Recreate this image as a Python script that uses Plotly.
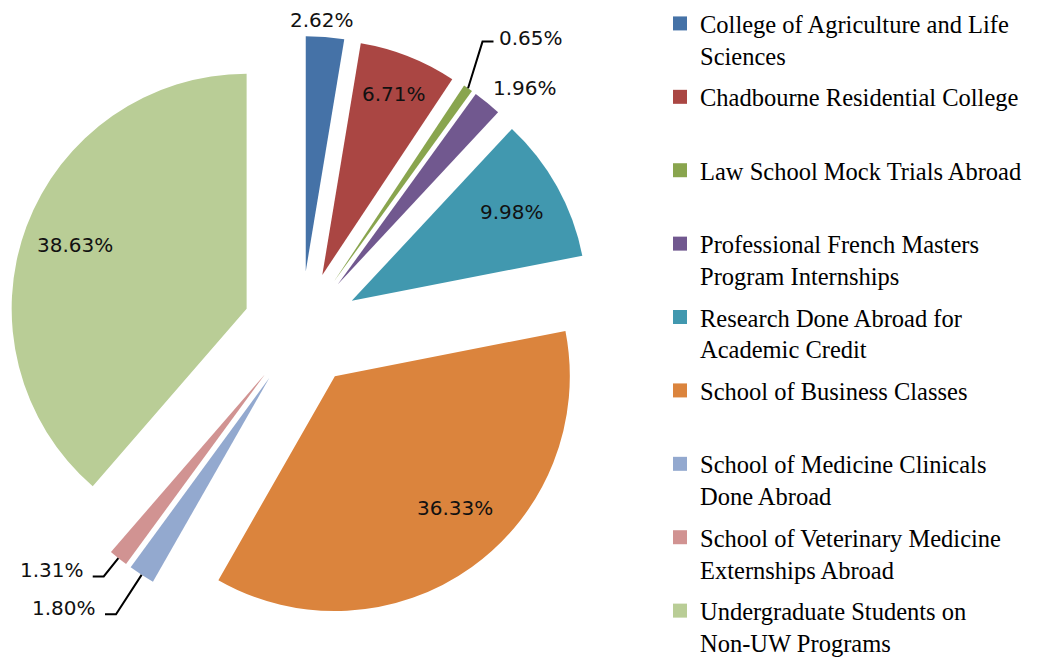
import math
import plotly.graph_objects as go

# ---------------- data ----------------
categories = [
    "College of Agriculture and Life<br>Sciences",
    "Chadbourne Residential College<br> ",
    "Law School Mock Trials Abroad<br> ",
    "Professional French Masters<br>Program Internships",
    "Research Done Abroad for<br>Academic Credit",
    "School of Business Classes<br> ",
    "School of Medicine Clinicals<br>Done Abroad",
    "School of Veterinary Medicine<br>Externships Abroad",
    "Undergraduate Students on<br>Non-UW Programs",
]
shares = [2.62, 6.71, 0.65, 1.96, 9.98, 36.33, 1.80, 1.31, 38.63]
colors = ["#4572A7", "#AA4643", "#89A54E", "#71588F", "#4198AF",
          "#DB843D", "#93A9CF", "#D19392", "#B9CD96"]
# label placement style per slice: (kind, radius factor, anchor/side, angle tweak in degrees)
label_style = [("out", 1.07, "center", -1), ("in", 0.83, "center", 0),
               ("lead", 1.2, "right", -3), ("out", 1.06, "left", -1.5),
               ("in", 0.78, "center", 0), ("in", 0.76, "center", -6.6),
               ("lead", 1.2, "left", 0), ("lead", 1.1, "left", 0),
               ("in", 0.78, "center", 0)]

# ---------------- geometry (screen px; page body has an 8px margin) ----------------
OFF = 8
W, H = 1042 - OFF, 661 - OFF
CX, CY = 301, 329          # pie centre on screen (px)
BOX = 586                  # pie box (px)
PULL = 0.247
R = BOX / (2 + 2 * PULL)


def px2paper(x, y):
    return (x - OFF) / W, 1 - (y - OFF) / H


dom_x = [(CX - OFF - BOX / 2) / W, (CX - OFF + BOX / 2) / W]
dom_y = [1 - (CY - OFF + BOX / 2) / H, 1 - (CY - OFF - BOX / 2) / H]

LABEL_FONT = dict(family="DejaVu Sans", size=20, color="#111111")
LEGEND_FONT = dict(family="Liberation Serif", size=24.5, color="#000000")

fig = go.Figure()
fig.add_trace(go.Pie(
    labels=categories, values=shares, sort=False, direction="clockwise",
    rotation=0, pull=[PULL] * len(shares),
    marker=dict(colors=colors, line=dict(width=0)),
    textinfo="none", showlegend=False, domain=dict(x=dom_x, y=dom_y),
    hovertemplate="%{label}: %{value:.2f}%<extra></extra>",
))

# legend via empty marker traces (one group each, for even spacing)
for i, (name, col) in enumerate(zip(categories, colors)):
    fig.add_trace(go.Scatter(
        x=[None], y=[None], mode="markers", name=name, legendgroup=f"g{i}",
        marker=dict(symbol="square", size=14, color=col),
    ))

total = sum(shares)
cum = 0.0
shapes = []
annotations = []
for v, st in zip(shares, label_style):
    kind, rf, side, tweak = st
    a0 = 2 * math.pi * cum / total
    cum += v
    a1 = 2 * math.pi * cum / total
    am = (a0 + a1) / 2
    dx, dy = math.sin(am), -math.cos(am)
    ax, ay = CX + PULL * R * dx, CY + PULL * R * dy   # slice apex
    at = am + math.radians(tweak)
    tdx, tdy = math.sin(at), -math.cos(at)
    txt = f"{v:.2f}%"
    if kind in ("in", "out"):
        x, y = ax + rf * R * tdx, ay + rf * R * tdy
        px, py = px2paper(x, y)
        annotations.append(dict(x=px, y=py, xref="paper", yref="paper", text=txt,
                                showarrow=False, xanchor=side, yanchor="middle",
                                font=LABEL_FONT))
    else:
        x0, y0 = ax + R * dx, ay + R * dy
        ex, ey = ax + rf * R * tdx, ay + rf * R * tdy
        sgn = 1 if side == "right" else -1
        hx = ex + sgn * 11
        p0, p1, p2 = px2paper(x0, y0), px2paper(ex, ey), px2paper(hx, ey)
        shapes.append(dict(type="path", xref="paper", yref="paper",
                           path=f"M {p0[0]},{p0[1]} L {p1[0]},{p1[1]} L {p2[0]},{p2[1]}",
                           line=dict(color="#000000", width=2)))
        if sgn > 0:
            tx, ty = px2paper(hx + 3, ey - 4)
        else:
            tx, ty = px2paper(hx - 7, ey - 6)
        annotations.append(dict(x=tx, y=ty, xref="paper", yref="paper", text=txt,
                                showarrow=False, xanchor="left" if sgn > 0 else "right",
                                yanchor="middle", font=LABEL_FONT))

lx, ly = px2paper(652 + OFF, -7 + OFF)

fig.update_layout(
    width=W, height=H,
    margin=dict(l=0, r=0, t=0, b=0, autoexpand=False),
    paper_bgcolor="white", plot_bgcolor="white",
    xaxis=dict(visible=False), yaxis=dict(visible=False),
    shapes=shapes, annotations=annotations,
    showlegend=True,
    legend=dict(x=lx, y=ly, xanchor="left", yanchor="top",
                font=LEGEND_FONT, valign="top", tracegroupgap=6.7,
                itemsizing="trace", bgcolor="rgba(0,0,0,0)", maxheight=3000),
)

fig.write_html("out.html")
